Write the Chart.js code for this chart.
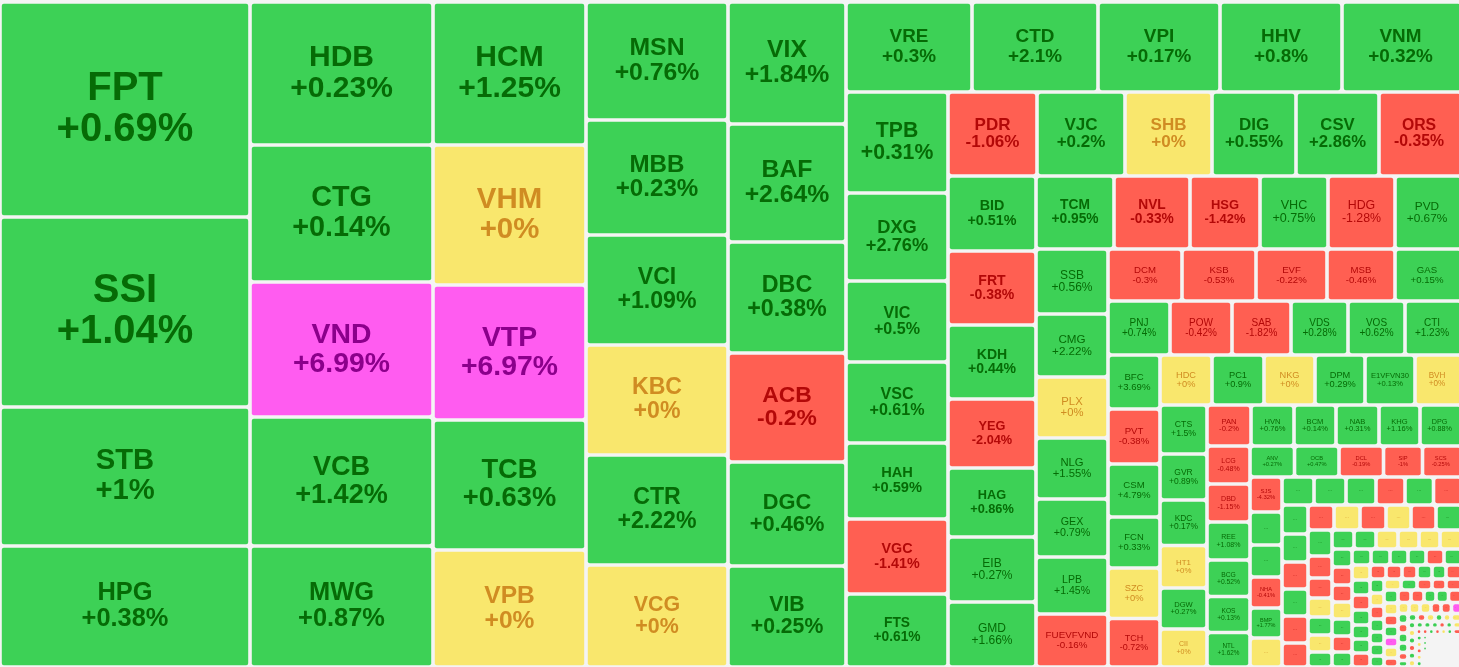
<!DOCTYPE html>
<html>
<head>
<meta charset="utf-8">
<title>Heatmap</title>
<script src="https://cdn.jsdelivr.net/npm/chart.js@4"></script>
<style>
  html, body { margin: 0; padding: 0; background: #f4f4f4; overflow: hidden; }
  #wrap { position: relative; width: 1459px; height: 667px; }
</style>
</head>
<body>
<div id="wrap"><canvas id="heatmap"></canvas></div>
<script>
// One line per strip of the treemap. An empty ticker means the cell only shows "..."
const tickers = [
  'FPT', 'SSI', 'STB', 'HPG',
  'HDB', 'CTG', 'VND', 'VCB', 'MWG',
  'HCM', 'VHM', 'VTP', 'TCB', 'VPB',
  'MSN', 'MBB', 'VCI', 'KBC', 'CTR', 'VCG',
  'VIX', 'BAF', 'DBC', 'ACB', 'DGC', 'VIB',
  'VRE', 'CTD', 'VPI', 'HHV', 'VNM',
  'TPB', 'DXG', 'VIC', 'VSC', 'HAH', 'VGC', 'FTS',
  'PDR', 'VJC', 'SHB', 'DIG', 'CSV', 'ORS',
  'BID', 'FRT', 'KDH', 'YEG', 'HAG', 'EIB', 'GMD',
  'TCM', 'NVL', 'HSG', 'VHC', 'HDG', 'PVD',
  'SSB', 'CMG', 'PLX', 'NLG', 'GEX', 'LPB', 'FUEVFVND',
  'DCM', 'KSB', 'EVF', 'MSB', 'GAS',
  'PNJ', 'POW', 'SAB', 'VDS', 'VOS', 'CTI',
  'BFC', 'PVT', 'CSM', 'FCN', 'SZC', 'TCH',
  'HDC', 'PC1', 'NKG', 'DPM', 'E1VFVN30', 'BVH',
  'CTS', 'GVR', 'KDC', 'HT1', 'DGW', 'CII',
  'PAN', 'HVN', 'BCM', 'NAB', 'KHG', 'DPG',
  'LCG', 'DBD', 'REE', 'BCG', 'KOS', 'NTL',
  'ANV', 'OCB', 'DCL', 'SIP', 'SCS',
  'SJS', '', '', 'NHA', 'BMP', ''
];

const changes = [
  0.69, 1.04, 1, 0.38,
  0.23, 0.14, 6.99, 1.42, 0.87,
  1.25, 0, 6.97, 0.63, 0,
  0.76, 0.23, 1.09, 0, 2.22, 0,
  1.84, 2.64, 0.38, -0.2, 0.46, 0.25,
  0.3, 2.1, 0.17, 0.8, 0.32,
  0.31, 2.76, 0.5, 0.61, 0.59, -1.41, 0.61,
  -1.06, 0.2, 0, 0.55, 2.86, -0.35,
  0.51, -0.38, 0.44, -2.04, 0.86, 0.27, 1.66,
  0.95, -0.33, -1.42, 0.75, -1.28, 0.67,
  0.56, 2.22, 0, 1.55, 0.79, 1.45, -0.16,
  -0.3, -0.53, -0.22, -0.46, 0.15,
  0.74, -0.42, -1.82, 0.28, 0.62, 1.23,
  3.69, -0.38, 4.79, 0.33, 0, -0.72,
  0, 0.9, 0, 0.29, 0.13, 0,
  1.5, 0.89, 0.17, 0, 0.27, 0,
  -0.2, 0.76, 0.14, 0.31, 1.16, 0.88,
  -0.48, -1.15, 1.08, 0.52, 0.13, 1.62,
  0.27, 0.47, -0.19, -1, -0.25,
  -4.32, 0.5, 0.5, -0.41, 1.77, 0,
  // the tiny cells have no readable number, only the colour
  0.5, 0.5, 0.5, -0.5, 0.5, -0.5,
  0.5, 0.5, -0.5, 0.5, -0.5, -0.5,
  -0.5, 0, -0.5, 0, -0.5, 0.5,
  0.5, -0.5, -0.5, 0, 0.5, 0, 0.5,
  0.5, 0.5, 0, 0, 0, 0,
  0.5, -0.5, -0.5, 0, 0.5, -0.5, 0.5,
  0.5, 0.5, 0.5, 0.5, -0.5, 0.5,
  0, 0.5, -0.5, 0.5, 0.5, 0.5, -0.5,
  -0.5, -0.5, -0.5, 0.5, 0.5, -0.5,
  0.5, 0, -0.5, 0.5, 0.5, 0.5, 0.5,
  0, 0.5, -0.5, -0.5, -0.5,
  0.5, 0, -0.5, 0.5, 6.9, 0, -0.5,
  -0.5, -0.5, 0.5, 0.5, -0.5,
  0, 0, 0, -0.5, -0.5, 6.9,
  0.5, -0.5, 0.5, 0.5, -0.5, 0.5,
  0.5, -0.5, 0, 0.5, 0, 0,
  0.5, 0, 0.5, -0.5, 0.5, 0,
  0.5, 0.5, 0.5, -0.5, 0.5, 0,
  -0.5, -0.5, 0.5, -0.5, 0, 0.5, -0.5,
  0.5, 0, -0.5, 0, 0.5,
  0.5, 0.5, 0.5, null
];

// Cell sizes
const weights = [
  53750, 47500, 34750, 30250,
  26169, 25071, 24705, 23607, 22143,
  21879, 21420, 20655, 19890, 17901,
  16756, 16330, 15620, 15620, 15620, 14484,
  14396, 13924, 13098, 12862, 12272, 11918,
  11340, 11340, 10980, 10980, 10530,
  10302, 8976, 8262, 8262, 7752, 7650, 7446,
  7476, 7392, 7308, 7056, 6972, 6720,
  6600, 6512, 6512, 6072, 6072, 5720, 5720,
  5694, 5548, 5110, 4964, 4891, 4672,
  4680, 4536, 4392, 4392, 4176, 4104, 3816,
  3848, 3848, 3692, 3536, 3328,
  3348, 3348, 3186, 3078, 3078, 2916,
  2808, 2860, 2756, 2652, 2626, 2522,
  2600, 2600, 2550, 2500, 2500, 2200,
  2303, 2162, 2139, 1998, 1927, 1786,
  1804, 1763, 1722, 1763, 1681, 1599,
  1634, 1634, 1634, 1570, 1548, 1484,
  1380, 1380, 1380, 1209, 1132,
  1120, 1056, 1024, 992, 960, 928,
  896, 896, 840, 812, 798, 714,
  754, 728, 702, 702, 702, 624,
  650, 650, 650, 625, 625, 575,
  624, 528, 480, 456, 432, 408, 360,
  418, 418, 418, 399, 399, 361,
  360, 360, 340, 340, 340, 320, 300,
  304, 304, 288, 288, 288, 240,
  270, 270, 270, 270, 252, 252, 252,
  224, 224, 210, 210, 196, 182,
  196, 182, 182, 182, 168, 168, 154,
  187, 176, 165, 154, 143,
  182, 168, 154, 154, 140, 154, 126,
  162, 162, 150, 156, 131,
  121, 121, 121, 110, 115, 83,
  100, 95, 100, 95, 80, 65,
  72, 72, 72, 64, 64, 64,
  60, 60, 60, 60, 60, 60,
  52, 52, 50, 48, 48, 43,
  40, 40, 40, 40, 40, 40, 40,
  42, 42, 42, 42, 42,
  28, 28, 28, 80
];

// How many cells each strip holds and whether it is a column (c) or a row (r)
const stripSizes = [4, 5, 5, 6, 6, 5, 7, 6, 7, 6, 7, 5, 6, 6, 6, 6, 6, 6, 5, 6, 6, 6, 6, 7, 6, 7, 6, 7, 6, 7, 5, 7, 5, 6, 6, 6, 6, 6, 7, 5, 4];
const stripAxes = ['c', 'c', 'c', 'c', 'c', 'r', 'c', 'r', 'c', 'r', 'c', 'r', 'r', 'c', 'r', 'c', 'r', 'c', 'r', 'c', 'r', 'c', 'r', 'c', 'r', 'c', 'r', 'c', 'r', 'c', 'r', 'c', 'r', 'r', 'c', 'r', 'c', 'r', 'r', 'c', 'c'];

const DOMAIN_W = 1459;
const DOMAIN_H = 665;
const CELL_GAP = 3.6;

function cellColor(change) {
  if (change === null) return 'rgba(0,0,0,0)';
  if (change >= 6.9) return '#ff5cf0';
  if (change > 0) return '#3dd156';
  if (change < 0) return '#ff5f52';
  return '#f9e76d';
}

function textColor(change) {
  if (change >= 6.9) return '#8b008b';
  if (change > 0) return '#066b06';
  if (change < 0) return '#b30808';
  return '#d08c22';
}

// Lay the strips out in the remaining space, in data units
function layoutCells() {
  const cells = [];
  let left = 0, top = 0, right = DOMAIN_W, bottom = DOMAIN_H;
  let index = 0;
  stripSizes.forEach((size, s) => {
    const part = weights.slice(index, index + size);
    const sum = part.reduce((a, b) => a + b, 0);
    const isColumn = stripAxes[s] === 'c';
    const length = isColumn ? bottom - top : right - left;
    const thickness = sum / length;
    let pos = isColumn ? top : left;
    part.forEach((w, k) => {
      const along = w / thickness;
      const i = index + k;
      const cell = isColumn
        ? { x0: left, x1: left + thickness, y0: pos, y1: pos + along }
        : { x0: pos, x1: pos + along, y0: top, y1: top + thickness };
      cell.x = (cell.x0 + cell.x1) / 2;
      cell.y = (cell.y0 + cell.y1) / 2;
      cell.name = tickers[i] || '';
      cell.change = changes[i];
      cell.weight = w;
      cells.push(cell);
      pos += along;
    });
    if (isColumn) left += thickness; else top += thickness;
    index += size;
  });
  return cells;
}

// Chart.js has no treemap type, so a small controller places bar elements on the two scales
class TreemapController extends Chart.DatasetController {
  update(mode) {
    const meta = this._cachedMeta;
    this.updateElements(meta.data, 0, meta.data.length, mode);
  }
  updateElements(elements, start, count, mode) {
    const { xScale, yScale } = this._cachedMeta;
    const data = this.getDataset().data;
    for (let i = start; i < start + count; i++) {
      const d = data[i];
      const px0 = xScale.getPixelForValue(d.x0) + CELL_GAP / 2;
      // the last column runs off the right edge, no gap there
      const px1 = xScale.getPixelForValue(d.x1) - (d.x1 > DOMAIN_W - 0.5 ? -1 : CELL_GAP / 2);
      const py0 = yScale.getPixelForValue(d.y0) + CELL_GAP / 2;
      const py1 = yScale.getPixelForValue(d.y1) - CELL_GAP / 2;
      this.updateElement(elements[i], i, {
        x: (px0 + px1) / 2,
        y: py0,
        base: Math.max(py1, py0 + 0.5),
        width: Math.max(px1 - px0, 0.5),
        height: Math.max(py1 - py0, 0.5),
        horizontal: false,
        inflateAmount: 0,
        enableBorderRadius: true,
        borderSkipped: {},
        options: this.resolveDataElementOptions(i, mode)
      }, mode);
    }
  }
}
TreemapController.id = 'treemap';
TreemapController.defaults = { dataElementType: 'bar' };
Chart.register(TreemapController);

function formatChange(v) {
  return (v >= 0 ? '+' : '') + v + '%';
}

// Font size follows the short side of the cell, capped for the biggest ones
function labelSize(side) {
  const ratio = 0.185 + 0.025 * Math.min(Math.max((side - 70) / 20, 0), 1);
  return Math.min(side * ratio, 40);
}

const labelPlugin = {
  id: 'cellLabels',
  afterDatasetsDraw(chart) {
    const ctx = chart.ctx;
    const meta = chart.getDatasetMeta(0);
    const data = chart.data.datasets[0].data;
    ctx.save();
    ctx.textAlign = 'center';
    ctx.textBaseline = 'middle';
    meta.data.forEach((el, i) => {
      const d = data[i];
      if (d.change === null) return;
      const side = Math.min(d.x1 - d.x0, d.y1 - d.y0);
      let size = labelSize(side);
      const weight = side >= 69 ? 'bold' : 'normal';
      const cx = chart.scales.x.getPixelForValue(d.x);
      const cy = el.y + el.height / 2;
      ctx.fillStyle = textColor(d.change);
      ctx.font = weight + ' ' + size + 'px Arial, "Liberation Sans", sans-serif';
      if (!d.name) {
        ctx.fillText('...', cx, cy - size * 0.2);
        return;
      }
      const widest = Math.max(ctx.measureText(d.name).width, ctx.measureText(formatChange(d.change)).width);
      if (widest > el.width * 0.82) {
        size *= el.width * 0.82 / widest;
        ctx.font = weight + ' ' + size + 'px Arial, "Liberation Sans", sans-serif';
      }
      ctx.fillText(d.name, cx, cy - size * 0.52);
      ctx.fillText(formatChange(d.change), cx, cy + size * 0.51);
    });
    ctx.restore();
  }
};

const cells = layoutCells();

new Chart(document.getElementById('heatmap'), {
  type: 'treemap',
  data: {
    datasets: [{
      data: cells,
      parsing: false,
      normalized: true,
      backgroundColor: cells.map(c => cellColor(c.change)),
      borderWidth: 0,
      borderRadius: 2
    }]
  },
  options: {
    responsive: true,
    maintainAspectRatio: false,
    animation: false,
    events: [],
    layout: { padding: { top: 2 } },
    plugins: {
      legend: { display: false },
      title: { display: false },
      tooltip: { enabled: false }
    },
    scales: {
      x: { type: 'linear', min: 0, max: DOMAIN_W, display: false },
      y: { type: 'linear', min: 0, max: DOMAIN_H, reverse: true, display: false }
    }
  },
  plugins: [labelPlugin]
});
</script>
</body>
</html>
